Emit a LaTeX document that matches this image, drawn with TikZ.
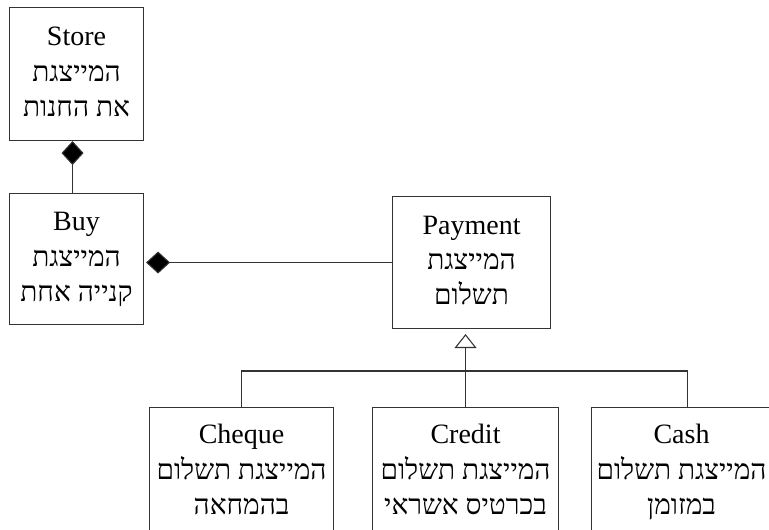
\documentclass[tikz,border=0pt]{standalone}
\usepackage{fontspec}
\setmainfont{Liberation Serif}
\newfontfamily\hebfont[Script=Hebrew]{Liberation Serif}
\TeXXeTstate=1
\usetikzlibrary{arrows.meta}
\newcommand{\hl}[1]{{\hebfont\beginR #1\endR}\strut}
\begin{document}
\begin{tikzpicture}[x=0.75pt,y=-0.75pt,
  box/.style={draw=black!80, line width=0.8pt, rectangle, inner sep=0pt,
    align=center, anchor=north west, font=\fontsize{21}{26.5}\selectfont},
  conn/.style={draw=black!80, line width=0.8pt},
  comp/.style={conn, -{Diamond[fill=black, length=18pt, width=16.5pt]}},
  gen/.style={conn, -{Triangle[open, fill=white, length=10.5pt, width=16.5pt]}}]
\useasboundingbox (0,0) rectangle (769,530);
\clip (0,0) rectangle (769,530);
\node[box, minimum width=100.5pt, minimum height=99.75pt] (store) at (9,7)
  {Store\strut\\\hl{המייצגת}\\\hl{את החנות}};
\node[box, minimum width=100.5pt, minimum height=98.25pt] (buy) at (9,193)
  {Buy\strut\\\hl{המייצגת}\\\hl{קנייה אחת}};
\node[box, minimum width=118.5pt, minimum height=99pt] (payment) at (392,196)
  {Payment\strut\\\hl{המייצגת}\\\hl{תשלום}};
\node[box, minimum width=138pt, minimum height=96.75pt] (cheque) at (149,407)
  {Cheque\strut\\\hl{המייצגת תשלום}\\\hl{בהמחאה}};
\node[box, minimum width=139.5pt, minimum height=96.75pt] (credit) at (372,407)
  {Credit\strut\\\hl{המייצגת תשלום}\\\hl{בכרטיס אשראי}};
\node[box, minimum width=135pt, minimum height=96.75pt] (cash) at (591,407)
  {Cash\strut\\\hl{המייצגת תשלום}\\\hl{במזומן}};
\coordinate (bus) at (466,371);
\coordinate (cashtop) at ([xshift=4.5pt]cash.north);
\draw[comp] ([xshift=-3pt]buy.north) -- ([xshift=-3pt]store.south);
\draw[comp, shorten >=1.5pt] (payment.west) -- (payment.west -| buy.east);
\draw[gen, shorten >=3.75pt] (credit.north) -- (credit.north |- payment.south);
\draw[conn] (cheque.north) |- (bus -| cashtop) -- (cashtop);
\end{tikzpicture}
\end{document}
